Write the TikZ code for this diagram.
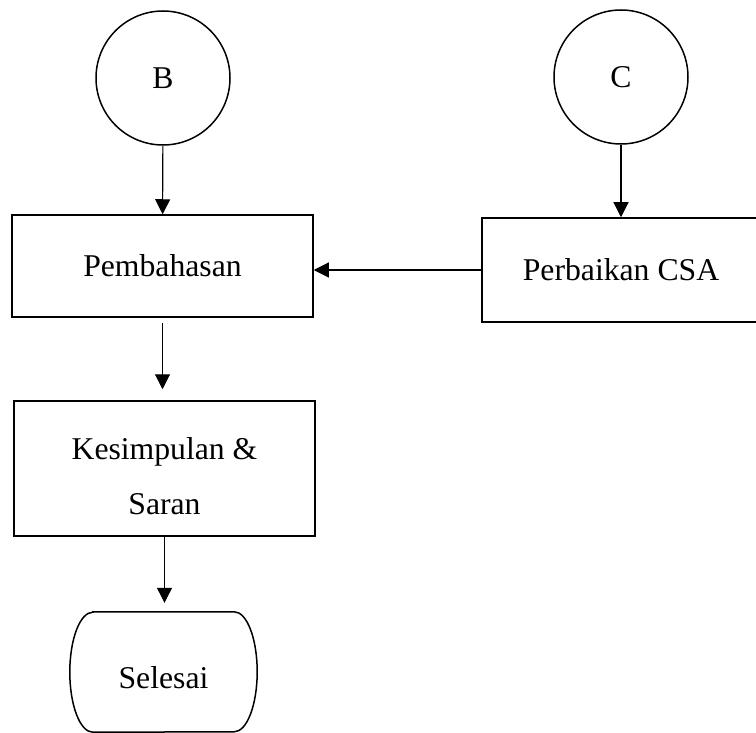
\documentclass[tikz,border=0pt]{standalone}
\usepackage{fontspec}
\setmainfont{Liberation Serif}
\usetikzlibrary{arrows.meta}

\tikzset{
  procBox/.style={draw,line width=1.5pt,align=center,inner sep=0pt},
  connCircle/.style={draw,circle,line width=1.5pt,minimum size=134pt,inner sep=0pt},
  flowArrow/.style={line width=1.1pt,-{Triangle[length=15pt,width=15pt]}}
}

\begin{document}
\begin{tikzpicture}[x=1pt,y=-1pt,font=\fontsize{31.7}{55}\selectfont]
\useasboundingbox (0,0) rectangle (756,733);
\node[connCircle] (myB) at (163,78) {B};
\node[connCircle] (myC) at (621,77) {C};
\node[procBox,minimum width=301pt,minimum height=102pt] (myPembahasan) at (162.5,266) {Pembahasan};
\node[procBox,minimum width=278pt,minimum height=104pt] (myPerbaikan) at (621,270) {Perbaikan CSA};
\node[procBox,minimum width=301pt,minimum height=135pt] (myKesimpulan) at (164.5,468.5) {\raisebox{-7pt}[\height][\depth]{\begin{tabular}{@{}c@{}}Kesimpulan \&\\Saran\end{tabular}}};
\node[minimum width=187pt,minimum height=120pt,inner sep=0pt,text height=32pt,text depth=0pt] (mySelesai) at (163.5,672) {Selesai};
\draw[line width=1.5pt] ([xshift=23pt]mySelesai.north west) -- ([xshift=-23pt]mySelesai.north east)
  arc[start angle=90,end angle=-90,x radius=23pt,y radius=60pt]
  -- ([xshift=23pt]mySelesai.south west)
  arc[start angle=270,end angle=90,x radius=23pt,y radius=60pt] -- cycle;
\draw[flowArrow] (myB) -- (myPembahasan);
\draw[flowArrow] (myC.south) -- (myC.south |- myPerbaikan.north);
\draw[flowArrow] (myPerbaikan.west) -- (myPerbaikan.west -| myPembahasan.east);
\draw[flowArrow,shorten <=5pt,shorten >=11pt] (myPembahasan.south) -- (myPembahasan.south |- myKesimpulan.north);
\draw[flowArrow,shorten >=9pt] (myKesimpulan.south) -- (myKesimpulan.south |- mySelesai.north);
\end{tikzpicture}
\end{document}
